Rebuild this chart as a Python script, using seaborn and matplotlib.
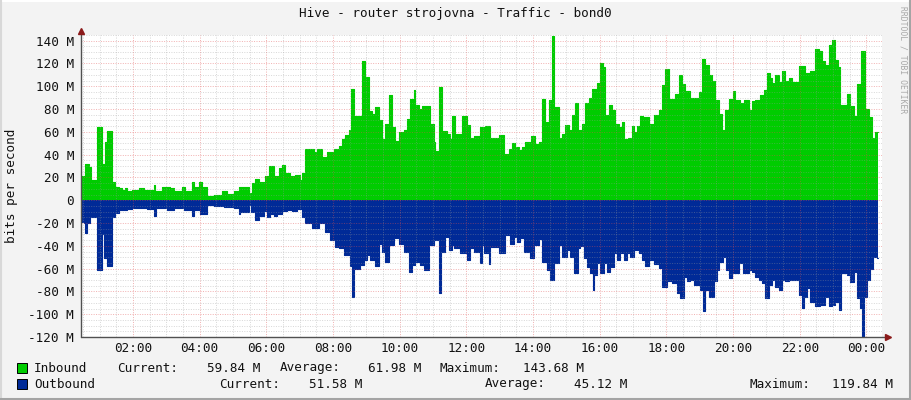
import pandas as pd
import seaborn as sns
import matplotlib.pyplot as plt
from matplotlib.ticker import MultipleLocator, FuncFormatter
from matplotlib.lines import Line2D
from matplotlib.patches import Rectangle

# sample start times (minutes after midnight) and rates in Mbit/s
in_min = [26, 34, 40, 44, 56, 64, 70, 74, 82, 88, 94, 100, 106, 109, 118, 130, 139, 158, 160, 172,
          187, 193, 208, 214, 226, 230, 238, 244, 254, 265, 280, 289, 301, 310, 328, 334, 340, 346, 355, 358,
          365, 374, 382, 388, 394, 403, 412, 421, 425, 430, 445, 451, 460, 469, 481, 490, 496, 502, 508, 512,
          518, 532, 538, 544, 550, 556, 562, 568, 574, 580, 586, 592, 598, 607, 613, 619, 625, 628, 634, 640,
          655, 661, 664, 671, 676, 685, 691, 695, 700, 712, 721, 727, 733, 745, 751, 754, 763, 778, 788, 796,
          802, 808, 814, 820, 826, 836, 844, 850, 856, 862, 869, 874, 878, 886, 892, 898, 904, 910, 916, 920,
          928, 934, 940, 946, 955, 961, 965, 970, 977, 982, 988, 994, 1000, 1004, 1010, 1018, 1021, 1027, 1033, 1037,
          1048, 1051, 1058, 1066, 1072, 1078, 1084, 1096, 1102, 1108, 1114, 1123, 1138, 1144, 1150, 1156, 1162, 1168, 1174, 1180,
          1186, 1193, 1199, 1204, 1213, 1219, 1228, 1234, 1240, 1249, 1255, 1261, 1267, 1270, 1276, 1282, 1288, 1294, 1300, 1306,
          1318, 1330, 1339, 1348, 1354, 1360, 1366, 1372, 1378, 1384, 1388, 1393, 1405, 1411, 1417, 1423, 1430, 1438, 1444, 1450,
          1456]
in_val = [21, 32, 29, 17.5, 64, 32, 51, 61, 16, 12, 10.5, 9, 10.5, 8, 9, 10.5, 9, 13.5, 8.5, 12,
          10.5, 8, 11.5, 8, 16, 11.5, 16, 11.5, 3.5, 4.5, 8, 5.5, 8, 11.5, 6, 15, 19, 16, 15, 21,
          30, 21, 28, 31, 24, 21, 22, 17.5, 24, 45, 42, 45, 38, 42, 45, 48, 54, 57, 62, 98,
          74, 122, 108, 78, 76, 82, 70, 54, 67, 92, 64, 52, 60, 62, 71, 89, 97, 84, 80, 83,
          67, 51, 43, 99, 61, 58, 54, 74, 58, 74, 66, 55, 56, 64, 51, 65, 55, 57, 41, 45,
          50, 47, 44, 47, 51, 56, 49, 51, 89, 69, 88, 143.7, 82, 55, 58, 66, 62, 75, 85, 62,
          67, 85, 90, 98, 103, 120, 117, 75, 84, 79, 67, 64, 69, 54, 55, 65, 60, 65, 74, 73,
          61, 67, 75, 79, 101, 115, 89, 93, 110, 102, 96, 90, 95, 124, 119, 110, 105, 88, 76, 62,
          79, 89, 96, 88, 85, 88, 79, 87, 88, 92, 97, 112, 107, 103, 110, 104, 113, 105, 107, 104,
          118, 112, 113, 133, 131, 122, 119, 136, 140.6, 123, 117, 84, 93, 83, 74, 102, 131, 80, 73, 55,
          60]

out_min = [26, 31, 34, 38, 43, 56, 64, 68, 73, 82, 88, 94, 109, 118, 145, 158, 161, 181, 193, 211,
           226, 230, 241, 253, 265, 283, 301, 310, 313, 328, 332, 340, 346, 355, 361, 367, 373, 379, 388, 397,
           406, 415, 424, 430, 442, 454, 466, 475, 484, 490, 499, 508, 511, 514, 518, 529, 535, 541, 547, 556,
           562, 568, 574, 580, 589, 598, 607, 616, 622, 628, 637, 643, 652, 661, 670, 674, 682, 688, 694, 697,
           709, 721, 727, 733, 745, 748, 751, 760, 763, 778, 790, 799, 805, 811, 817, 823, 835, 841, 850, 856,
           865, 871, 877, 886, 892, 901, 907, 914, 920, 925, 931, 937, 943, 947, 950, 955, 961, 967, 973, 979,
           985, 991, 997, 1003, 1009, 1015, 1021, 1030, 1036, 1042, 1048, 1051, 1057, 1066, 1072, 1081, 1090, 1099, 1105, 1111,
           1117, 1123, 1129, 1141, 1145, 1150, 1157, 1165, 1171, 1175, 1181, 1187, 1193, 1198, 1210, 1217, 1228, 1234, 1240, 1246,
           1252, 1258, 1264, 1270, 1276, 1282, 1288, 1294, 1300, 1318, 1324, 1328, 1333, 1339, 1348, 1357, 1366, 1372, 1378, 1384,
           1390, 1394, 1405, 1411, 1418, 1423, 1429, 1432, 1436, 1441, 1446, 1452, 1459]
out_val = [19, 20, 29, 20, 14.6, 61, 30, 51, 58, 15, 11, 8.7, 8, 7, 8, 14, 7, 8.7, 6.4, 8.7,
           14, 8.7, 12, 4, 5, 5.8, 7, 12, 10, 4, 10, 17.5, 14, 9.3, 14.6, 11.7, 14, 12, 9.3, 8.7,
           9.3, 8, 14.6, 20, 24, 20, 27.7, 35, 41, 42, 48, 42, 58, 84.6, 60.5, 57, 52.5, 48, 52.5, 57.7,
           38, 45, 54, 39, 33.5, 38, 45, 62.7, 57, 54, 57, 61, 39, 35, 81, 45, 32, 44, 39, 42,
           46.7, 52.5, 42, 45, 55, 39, 46.7, 56, 41, 46, 30.6, 38.5, 32, 37, 33.5, 45, 51, 39, 34.4, 54,
           61, 70, 55, 39, 49.6, 43.8, 49.6, 64, 42, 40, 51, 58.9, 64, 78.7, 65.6, 55, 64, 55, 62.7, 58.3,
           46, 52.5, 46.7, 52, 46.7, 49.6, 43.8, 46, 52.5, 58, 45, 52.5, 56, 59.5, 75.8, 70.6, 73, 81.6, 86, 67.6,
           71, 70, 74.5, 78.7, 96.8, 78.7, 84.6, 71, 61, 54, 49.6, 61, 68.5, 64, 55, 63.6, 61, 62.7, 67.6, 70,
           73, 86, 74.5, 70, 75.8, 78.7, 70, 71, 70, 83, 94.8, 84.6, 77, 89, 93, 91.9, 84.6, 93, 92, 89,
           96, 64, 65.6, 72, 62.7, 86, 94.8, 119.8, 84.6, 70, 60.5, 49.6, 51]
end_min = 1460

hour_ticks = [120, 240, 360, 480, 600, 720, 840, 960, 1080, 1200, 1320, 1440]
hour_labels = ['02:00', '04:00', '06:00', '08:00', '10:00', '12:00',
               '14:00', '16:00', '18:00', '20:00', '22:00', '00:00']

in_stats = ['Current:', '59.84 M', 'Average:', '61.98 M', 'Maximum:', '143.68 M']
out_stats = ['Current:', '51.58 M', 'Average:', '45.12 M', 'Maximum:', '119.84 M']

GREEN = '#00CC00'
BLUE = '#002A97'
AXC = '#505050'

sns.set_theme(style='white')
plt.rcParams['font.family'] = ['DejaVu Sans Mono']
FS = 9.1

W, H = 911, 400
fig = plt.figure(figsize=(W / 100, H / 100), dpi=100, facecolor='#F3F3F3')
ax = fig.add_axes([81 / W, (H - 337) / H, (882 - 81) / W, (337 - 35) / H])
ax.set_facecolor('white')

df_in = pd.DataFrame({'t': in_min + [end_min], 'v': in_val + [in_val[-1]]})
df_out = pd.DataFrame({'t': out_min + [end_min], 'v': [-v for v in out_val] + [-out_val[-1]]})

ax.fill_between(df_in['t'], 0, df_in['v'], step='post', color=GREEN, lw=0, zorder=1)
ax.fill_between(df_out['t'], 0, df_out['v'], step='post', color=BLUE, lw=0, zorder=1)
sns.lineplot(data=df_in, x='t', y='v', drawstyle='steps-post', color=GREEN, lw=0.8, ax=ax)
sns.lineplot(data=df_out, x='t', y='v', drawstyle='steps-post', color=BLUE, lw=0.8, ax=ax)

ax.set_xlim(26.4, 1468)
ax.set_ylim(-120, 145)
ax.set_xlabel('')
ax.set_ylabel('')

ax.yaxis.set_major_locator(MultipleLocator(20))
ax.yaxis.set_minor_locator(MultipleLocator(5))
ax.xaxis.set_major_locator(MultipleLocator(120))
ax.xaxis.set_minor_locator(MultipleLocator(30))
ax.yaxis.set_major_formatter(FuncFormatter(lambda v, p: '0' if v == 0 else f'{v:.0f} M'))
ax.set_xticks(hour_ticks)
ax.set_xticklabels(hour_labels)

# rrdtool draws its grid over the data
ax.set_axisbelow(False)
ax.grid(which='minor', color='#9A9A9A', alpha=0.4, lw=0.7, linestyle=(0, (1, 1.5)))
ax.grid(which='major', color='#E05050', alpha=0.45, lw=0.7, linestyle=(0, (1, 1.5)))

for s in ax.spines.values():
    s.set_visible(False)
ax.tick_params(which='major', length=4, width=0.8, color=AXC, direction='inout',
               labelsize=FS, labelcolor='#111111', pad=1.5)
ax.tick_params(which='minor', length=2, width=0.6, color=AXC, direction='inout')
ax.tick_params(axis='y', which='major', pad=3)

# axis lines with arrow heads
ax.plot([0, 1.008], [0, 0], color=AXC, lw=1, transform=ax.transAxes, clip_on=False, zorder=5)
ax.plot([0, 0], [0, 1.012], color=AXC, lw=1, transform=ax.transAxes, clip_on=False, zorder=5)
ax.plot([1.008], [0], marker='>', ms=5, color='#8B1A1A', transform=ax.transAxes, clip_on=False, zorder=6)
ax.plot([0], [1.012], marker='^', ms=5, color='#8B1A1A', transform=ax.transAxes, clip_on=False, zorder=6)

fig.text(455 / W, 1 - 14 / H, 'Hive - router strojovna - Traffic - bond0',
         ha='center', va='center', fontsize=FS, color='#111111')
fig.text(12 / W, 1 - 186 / H, 'bits per second', rotation=90,
         ha='center', va='center', fontsize=FS, color='#111111')
fig.text(903 / W, 1 - 60 / H, 'RRDTOOL / TOBI OETIKER', rotation=270,
         ha='center', va='center', fontsize=5.8, color='#A8A8A8')

# legend
rows = [('Inbound', GREEN, 368, in_stats, [116.7, 260, 279.3, 421.7, 440, 584]),
        ('Outbound', BLUE, 384, out_stats, [219.3, 362.7, 485, 627.7, 749.3, 893.3])]
for name, col, yc, stats, xs in rows:
    fig.add_artist(Rectangle((17 / W, 1 - (yc + 5) / H), 10 / W, 10 / H,
                             facecolor=col, edgecolor='black', lw=0.7, transform=fig.transFigure))
    fig.text(34 / W, 1 - yc / H, name, ha='left', va='center', fontsize=FS, color='#111111')
    for i, (txt, x) in enumerate(zip(stats, xs)):
        fig.text(x / W, 1 - yc / H, txt, ha='left' if i % 2 == 0 else 'right',
                 va='center', fontsize=FS, color='#111111')

# frame around the image
fig.add_artist(Line2D([0, 1], [1 - 0.5 / H, 1 - 0.5 / H], color='white', lw=1.5, transform=fig.transFigure))
fig.add_artist(Line2D([0.5 / W, 0.5 / W], [0, 1], color='#D8D8D8', lw=1.5, transform=fig.transFigure))
fig.add_artist(Line2D([0, 1], [1.5 / H, 1.5 / H], color='#A4A4A4', lw=2.2, transform=fig.transFigure))
fig.add_artist(Line2D([1 - 1.5 / W, 1 - 1.5 / W], [0, 1], color='#A4A4A4', lw=2.2, transform=fig.transFigure))

fig.savefig('out.png', dpi=100, facecolor=fig.get_facecolor())
